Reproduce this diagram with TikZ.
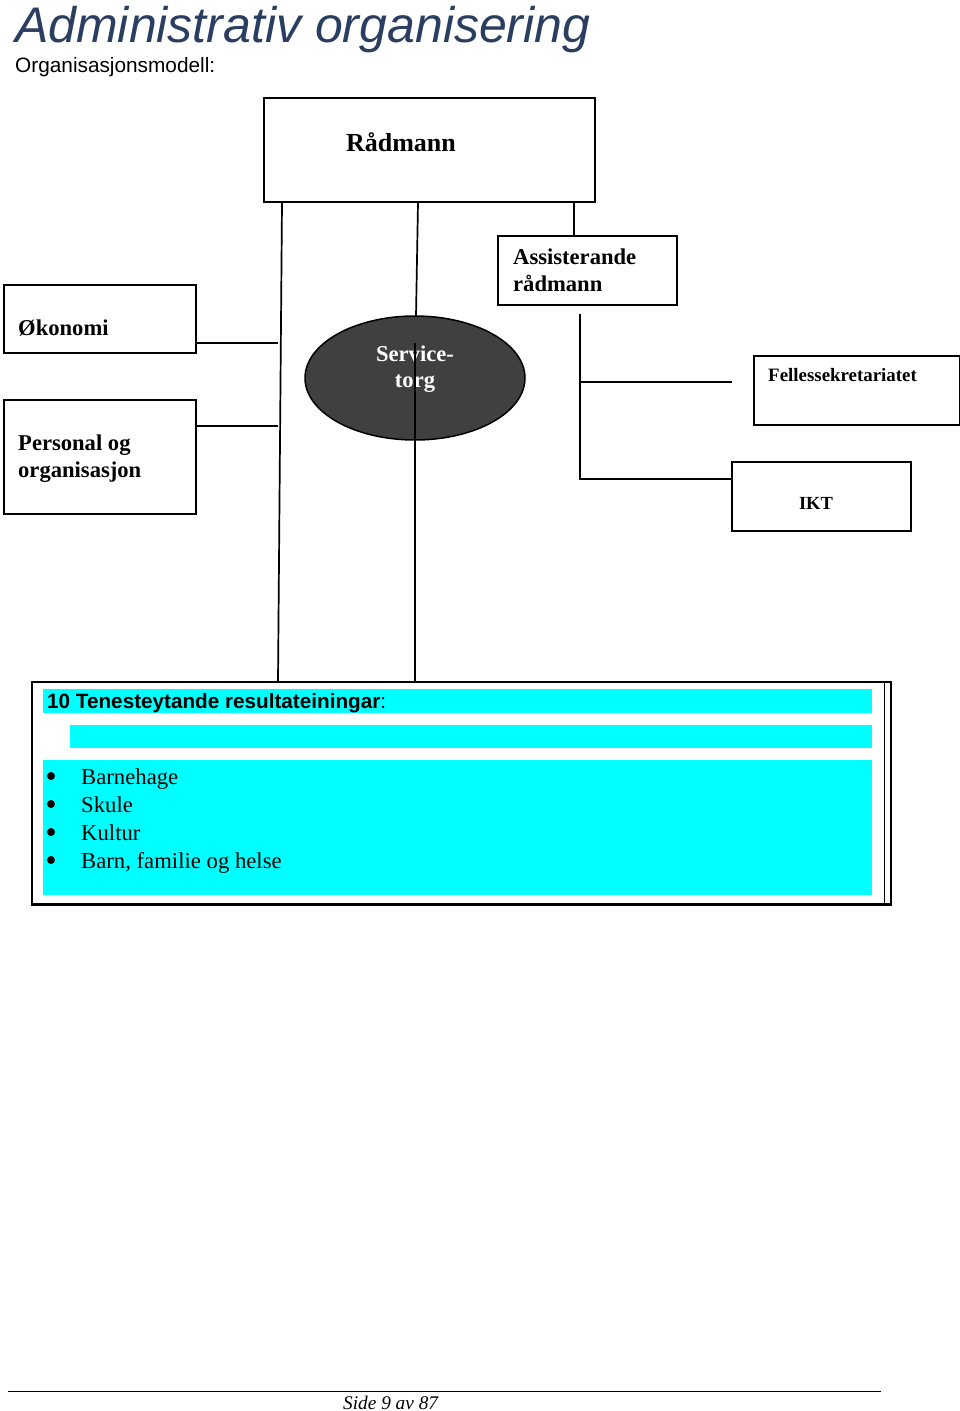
\documentclass[tikz,border=0pt]{standalone}
\usepackage{fontspec}
\setmainfont{Liberation Serif}
\newfontfamily\arialf{Liberation Sans}
\usetikzlibrary{shapes.geometric,calc}
\definecolor{titleblue}{RGB}{42,62,98}
\definecolor{ellgray}{RGB}{64,64,64}
\definecolor{cyanband}{RGB}{0,255,255}
\begin{document}
\begin{tikzpicture}[x=1pt,y=-1pt,
  box/.style={draw, line width=1.7pt, inner sep=0pt, anchor=north west},
  conn/.style={draw, line width=1.7pt},
  lbl/.style={inner sep=0pt, anchor=base west, font=\fontsize{22.6}{27}\selectfont\bfseries},
  band/.style={fill=cyanband, draw=none, inner sep=0pt, anchor=north west},
  item/.style={inner sep=0pt, anchor=base west, font=\fontsize{22.7}{28}\selectfont}
]
\useasboundingbox (0,0) rectangle (960,1411);

% title
\node[inner sep=0pt, anchor=base west, text=titleblue, font=\arialf\itshape\fontsize{50}{56}\selectfont] (title) at (15,42) {Administrativ organisering};
\node[inner sep=0pt, anchor=base west, font=\arialf\fontsize{20.8}{24}\selectfont] (sub) at (15,72) {Organisasjonsmodell:};

% boxes
\node[box, minimum width=331, minimum height=104] (rad) at (263,97) {};
\node[inner sep=0pt, anchor=base, font=\fontsize{26}{30}\selectfont\bfseries] (radt) at (401,151) {Rådmann};

\node[box, minimum width=179, minimum height=69] (ass) at (497,235) {};
\node[lbl] (asst1) at (513,264) {Assisterande};
\node[lbl] (asst2) at (513,291) {rådmann};

\node[box, minimum width=192, minimum height=68] (oko) at (3,284) {};
\node[lbl] (okot) at (18,335) {Økonomi};

\node[box, minimum width=192, minimum height=114] (per) at (3,399) {};
\node[lbl] (pert1) at (18,450) {Personal og};
\node[lbl] (pert2) at (18,477) {organisasjon};

\node[box, minimum width=206, minimum height=69] (fel) at (753,355) {};
\node[inner sep=0pt, anchor=base west, font=\fontsize{18.9}{22}\selectfont\bfseries] (felt) at (768,381) {Fellessekretariatet};

\node[box, minimum width=179, minimum height=69] (ikt) at (731,461) {};
\node[inner sep=0pt, anchor=base, font=\fontsize{18.5}{22}\selectfont\bfseries] (iktt) at (816,509) {IKT};

% service ellipse
\node[ellipse, draw, line width=1.5pt, fill=ellgray, minimum width=220, minimum height=124, inner sep=0pt] (st) at (415,378) {};
\node[inner sep=0pt, anchor=base, text=white, font=\fontsize{22.6}{27}\selectfont\bfseries] (stt1) at (415,361) {Service-};
\node[inner sep=0pt, anchor=base, text=white, font=\fontsize{22.6}{27}\selectfont\bfseries] (stt2) at (415,387) {torg};

% bottom container
\node[box, line width=1.5pt, minimum width=859, minimum height=222] (ten) at (31,681) {};
\draw[line width=1.5pt] ([xshift=-7pt]ten.north east) -- ([xshift=-7pt]ten.south east);
\draw[line width=3pt] (ten.south west) -- (ten.south east);
\node[band, minimum width=829, minimum height=24] (b1) at (43,689) {};
\node[band, minimum width=802, minimum height=23] (b2) at (70,725) {};
\node[band, minimum width=829, minimum height=135] (b3) at (43,760) {};
\node[inner sep=0pt, anchor=base west, font=\arialf\fontsize{20.7}{24}\selectfont] (tent) at (47,708) {\textbf{10 Tenesteytande resultateiningar}:};
\foreach \t/\yy [count=\i] in {Barnehage/784, Skule/812, Kultur/840, {Barn, familie og helse}/868}{
  \node[item] (it\i) at (81,\yy) {\t};
  \node[circle, fill=black, inner sep=0pt, minimum size=8pt] (bu\i) at (51,\yy-8) {};
}

% junction coordinates
\coordinate (ljTop) at (282,203);
\coordinate (ljBot) at (278,681);
\coordinate (mjTop) at (418,203);
\coordinate (mjBot) at (416,316);
\coordinate (rj) at (574,203);
\coordinate (aj1) at (580,314);
\coordinate (aj2) at (580,479);
\coordinate (ajF) at (732,382);
\coordinate (sjTop) at (415,343);
\coordinate (sjBot) at (415,681);
\coordinate (ojL) at (278,343);
\coordinate (pjL) at (278,426);

% connectors
\draw[conn] (ljTop) -- (ljBot);
\draw[conn] (mjTop) -- (mjBot);
\draw[conn] (rj) -- (rj |- ass.north);
\draw[conn] (oko.east |- ojL) -- (ojL);
\draw[conn] (per.east |- pjL) -- (pjL);
\draw[conn] (sjTop) -- (sjBot);
\draw[conn] (aj1) -- (aj2) -- (ikt.west |- aj2);
\draw[conn] (aj1 |- ajF) -- (ajF);

% footer
\coordinate (fl) at (8,1391);
\coordinate (fr) at (881,1391);
\draw[line width=1pt] (fl) -- (fr);
\node[inner sep=0pt, anchor=base west, font=\itshape\fontsize{19.3}{22}\selectfont] (foot) at (343,1409) {Side 9 av 87};
\end{tikzpicture}
\end{document}
